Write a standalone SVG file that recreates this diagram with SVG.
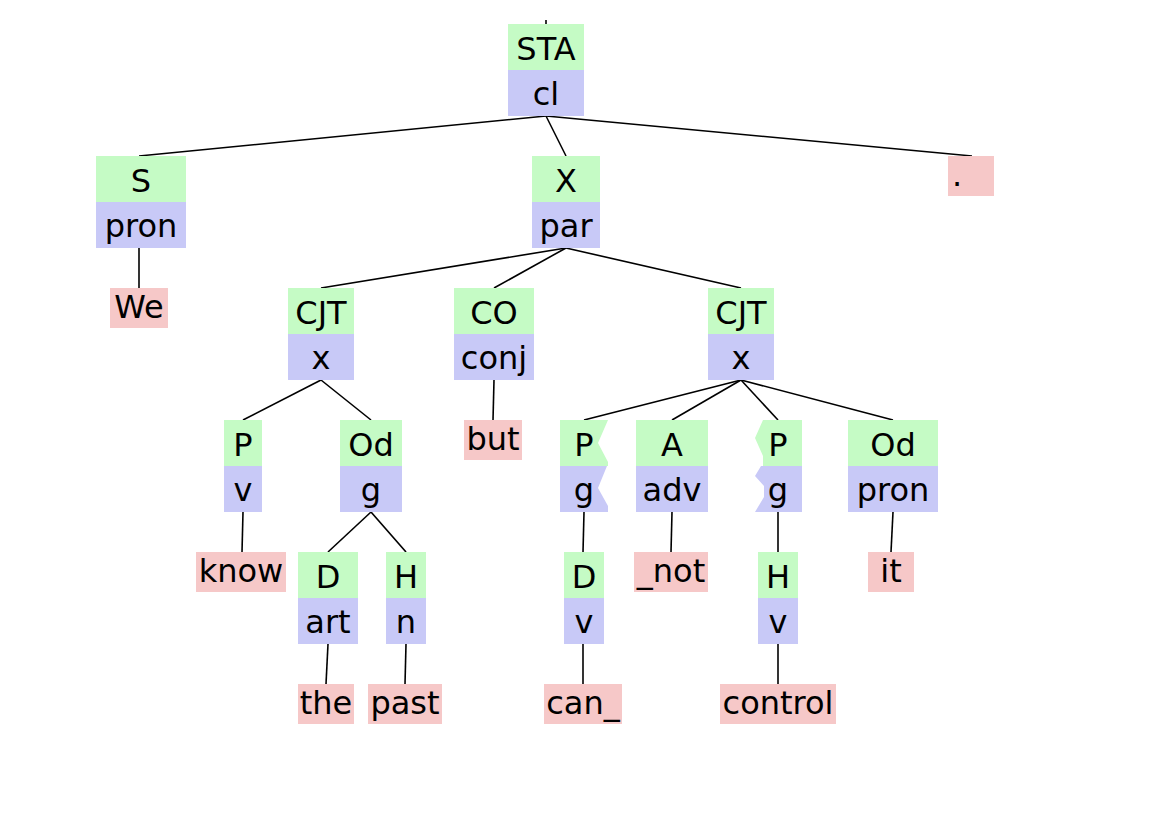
<svg xmlns="http://www.w3.org/2000/svg" width="1172" height="836" viewBox="0 0 1172 836">
<style>
.g{fill:#c5fbc5}
.b{fill:#c8c9f7}
.w{fill:#f6c8c8}
text{font-family:"DejaVu Sans","Liberation Sans",sans-serif;font-size:32px;fill:#000;text-anchor:middle}
.e line{stroke:#000;stroke-width:1.6;fill:none}
</style>
<rect width="1172" height="836" fill="#fff"/>
<g class="e" id="edges">
<line x1="546" y1="20" x2="546" y2="24"/>
<line x1="546" y1="116" x2="139" y2="156"/>
<line x1="546" y1="116" x2="566" y2="156"/>
<line x1="546" y1="116" x2="972" y2="156"/>
<line x1="139" y1="248" x2="139" y2="288"/>
<line x1="566" y1="248" x2="321" y2="288"/>
<line x1="566" y1="248" x2="494" y2="288"/>
<line x1="566" y1="248" x2="741" y2="288"/>
<line x1="321" y1="380" x2="243" y2="420"/>
<line x1="321" y1="380" x2="371" y2="420"/>
<line x1="494" y1="380" x2="493" y2="420"/>
<line x1="741" y1="380" x2="584" y2="420"/>
<line x1="741" y1="380" x2="672" y2="420"/>
<line x1="741" y1="380" x2="778" y2="420"/>
<line x1="741" y1="380" x2="893" y2="420"/>
<line x1="243" y1="512" x2="242" y2="552"/>
<line x1="371" y1="512" x2="328" y2="552"/>
<line x1="371" y1="512" x2="406" y2="552"/>
<line x1="584" y1="512" x2="583" y2="552"/>
<line x1="672" y1="512" x2="671" y2="552"/>
<line x1="778" y1="512" x2="778" y2="552"/>
<line x1="893" y1="512" x2="891" y2="552"/>
<line x1="328" y1="644" x2="326" y2="684"/>
<line x1="406" y1="644" x2="405" y2="684"/>
<line x1="583" y1="644" x2="583" y2="684"/>
<line x1="778" y1="644" x2="778" y2="684"/>
</g>
<g id="n-STA"><rect class="g" x="508" y="24" width="76" height="46"/><rect class="b" x="508" y="70" width="76" height="46"/><text x="546" y="60">STA</text><text x="546" y="105">cl</text></g>
<g id="n-S"><rect class="g" x="96" y="156" width="90" height="46"/><rect class="b" x="96" y="202" width="90" height="46"/><text x="141" y="192">S</text><text x="141" y="237">pron</text></g>
<g id="n-X"><rect class="g" x="532" y="156" width="68" height="46"/><rect class="b" x="532" y="202" width="68" height="46"/><text x="566" y="192">X</text><text x="566" y="237">par</text></g>
<g id="t-dot"><rect class="w" x="948" y="156" width="46" height="40"/><text x="957" y="186">.</text></g>
<g id="t-We"><rect class="w" x="110" y="288" width="58" height="40"/><text x="139" y="318">We</text></g>
<g id="n-CJT1"><rect class="g" x="288" y="288" width="66" height="46"/><rect class="b" x="288" y="334" width="66" height="46"/><text x="321" y="324">CJT</text><text x="321" y="369">x</text></g>
<g id="n-CO"><rect class="g" x="454" y="288" width="80" height="46"/><rect class="b" x="454" y="334" width="80" height="46"/><text x="494" y="324">CO</text><text x="494" y="369">conj</text></g>
<g id="n-CJT2"><rect class="g" x="708" y="288" width="66" height="46"/><rect class="b" x="708" y="334" width="66" height="46"/><text x="741" y="324">CJT</text><text x="741" y="369">x</text></g>
<g id="n-Pv"><rect class="g" x="224" y="420" width="38" height="46"/><rect class="b" x="224" y="466" width="38" height="46"/><text x="243" y="456">P</text><text x="243" y="501">v</text></g>
<g id="n-Odg"><rect class="g" x="340" y="420" width="62" height="46"/><rect class="b" x="340" y="466" width="62" height="46"/><text x="371" y="456">Od</text><text x="371" y="501">g</text></g>
<g id="t-but"><rect class="w" x="464" y="420" width="58" height="40"/><text x="493" y="450">but</text></g>
<g id="n-Pg1"><path class="g" d="M560,420 H608 L598,443 L608,462 V466 H560 Z"/><path class="b" d="M560,466 H607 L598,488 L608,506 V512 H560 Z"/><text x="584" y="456">P</text><text x="584" y="501">g</text></g>
<g id="n-Aadv"><rect class="g" x="636" y="420" width="72" height="46"/><rect class="b" x="636" y="466" width="72" height="46"/><text x="672" y="456">A</text><text x="672" y="501">adv</text></g>
<g id="n-Pg2"><path class="g" d="M763,420 H802 V466 H763 V456 L755,438 Z"/><path class="b" d="M761,466 H802 V512 H755 L764,497 V486 L755,476 Z"/><text x="778" y="456">P</text><text x="778" y="501">g</text></g>
<g id="n-Odpron"><rect class="g" x="848" y="420" width="90" height="46"/><rect class="b" x="848" y="466" width="90" height="46"/><text x="893" y="456">Od</text><text x="893" y="501">pron</text></g>
<g id="t-know"><rect class="w" x="196" y="552" width="90" height="40"/><text x="241" y="582">know</text></g>
<g id="n-Dart"><rect class="g" x="298" y="552" width="60" height="46"/><rect class="b" x="298" y="598" width="60" height="46"/><text x="328" y="588">D</text><text x="328" y="633">art</text></g>
<g id="n-Hn"><rect class="g" x="386" y="552" width="40" height="46"/><rect class="b" x="386" y="598" width="40" height="46"/><text x="406" y="588">H</text><text x="406" y="633">n</text></g>
<g id="n-Dv"><rect class="g" x="564" y="552" width="40" height="46"/><rect class="b" x="564" y="598" width="40" height="46"/><text x="584" y="588">D</text><text x="584" y="633">v</text></g>
<g id="t-not"><rect class="w" x="634" y="552" width="74" height="40"/><text x="671" y="582">_not</text></g>
<g id="n-Hv"><rect class="g" x="758" y="552" width="40" height="46"/><rect class="b" x="758" y="598" width="40" height="46"/><text x="778" y="588">H</text><text x="778" y="633">v</text></g>
<g id="t-it"><rect class="w" x="868" y="552" width="46" height="40"/><text x="891" y="582">it</text></g>
<g id="t-the"><rect class="w" x="298" y="684" width="56" height="40"/><text x="326" y="714">the</text></g>
<g id="t-past"><rect class="w" x="368" y="684" width="74" height="40"/><text x="405" y="714">past</text></g>
<g id="t-can"><rect class="w" x="544" y="684" width="78" height="40"/><text x="583" y="714">can_</text></g>
<g id="t-control"><rect class="w" x="720" y="684" width="116" height="40"/><text x="778" y="714">control</text></g>
</svg>
